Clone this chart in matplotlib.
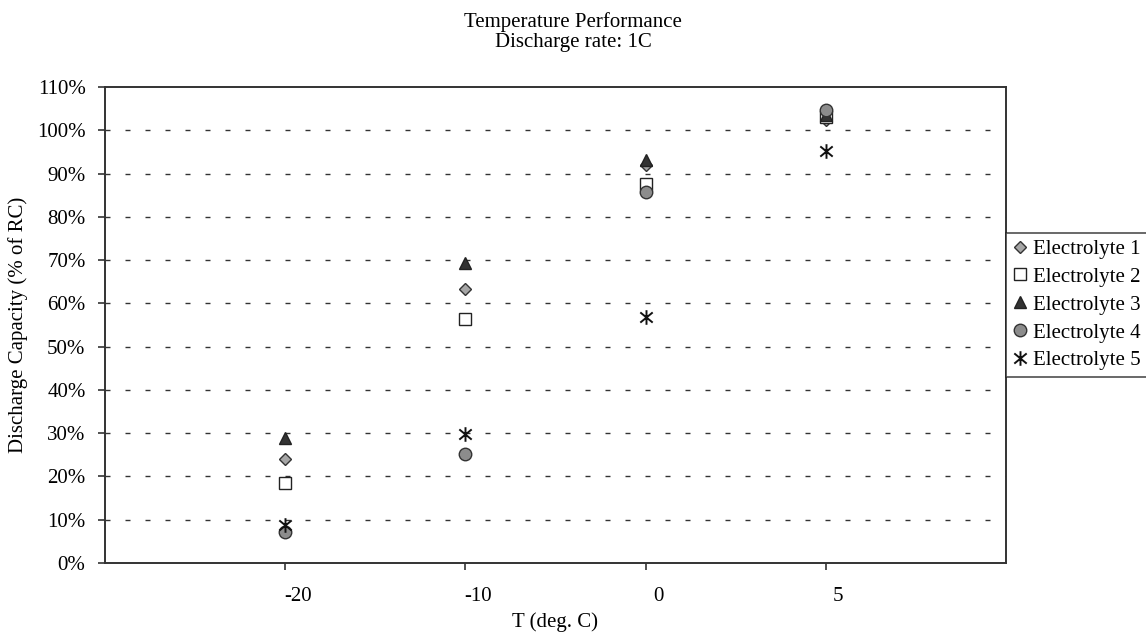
import matplotlib
matplotlib.use('Agg')
import matplotlib.pyplot as plt
from matplotlib.path import Path
import numpy as np

# category axis (Excel style), values in % of rated capacity
temps = ['-20', '-10', '0', '5']
e1 = [24.0, 63.3, 92.0, 102.4]
e2 = [18.4, 56.4, 87.5, 103.0]
e3 = [29.0, 69.3, 93.2, 103.5]
e4 = [7.1, 25.3, 85.7, 104.6]
e5 = [8.8, 29.7, 56.8, 95.3]
names = ['Electrolyte 1', 'Electrolyte 2', 'Electrolyte 3', 'Electrolyte 4', 'Electrolyte 5']
yticks = list(range(0, 111, 10))

# X with a vertical bar, like the Excel star marker
star = Path([(0, -1), (0, 1), (-0.85, -0.7), (0.85, 0.7), (-0.85, 0.7), (0.85, -0.7)],
            [Path.MOVETO, Path.LINETO, Path.MOVETO, Path.LINETO, Path.MOVETO, Path.LINETO])


def run():
    plt.rcParams['font.family'] = ['Liberation Serif', 'DejaVu Serif']
    plt.rcParams['font.size'] = 15

    fig = plt.figure(figsize=(11.46, 6.32), dpi=100)
    ax = fig.add_axes([105 / 1146, 1 - 563 / 632, 901 / 1146, 476 / 632])

    x = np.arange(len(temps))
    styles = [
        dict(marker='D', ms=6.5, mfc='#a6a6a6', mec='#333333', mew=1.0),
        dict(marker='s', ms=8.5, mfc='white', mec='#222222', mew=1.0),
        dict(marker='^', ms=9, mfc='#333333', mec='#222222', mew=1.0),
        dict(marker='o', ms=9, mfc='#8c8c8c', mec='#333333', mew=1.0),
        dict(marker=star, ms=10.5, mfc='none', mec='#111111', mew=1.4),
    ]
    for vals, name, st in zip([e1, e2, e3, e4, e5], names, styles):
        ax.plot(x, vals, linestyle='none', label=name, **st)

    # dashed gridlines (not at 0 and 110)
    for v in yticks[1:-1]:
        ax.axhline(v, color='#333333', lw=1.0, dashes=(3.6, 10.8), zorder=0)

    ax.set_xlim(-1, len(temps))
    ax.set_ylim(0, 110)
    ax.set_yticks(yticks)
    ax.set_yticklabels(['%d%%' % v for v in yticks])
    # tick marks on the categories, labels sit a little to the right of them
    ax.set_xticks(x)
    ax.set_xticklabels([])
    ax.set_xticks(x + 0.07, minor=True)
    ax.set_xticklabels(temps, minor=True)

    ax.tick_params(axis='y', direction='out', length=5, width=1.2, color='#333333', pad=9)
    ax.tick_params(axis='x', which='major', direction='out', length=5, width=1.2, color='#333333')
    ax.tick_params(axis='x', which='minor', length=0, pad=17)
    for sp in ax.spines.values():
        sp.set_color('#333333')
        sp.set_linewidth(1.4)

    ax.set_ylabel('Discharge Capacity (% of RC)')
    ax.yaxis.set_label_coords(-0.0855, 0.5)
    ax.set_xlabel('T (deg. C)')
    ax.xaxis.set_label_coords(0.5, -0.103)

    fig.text(0.5, 1 - 12 / 632, 'Temperature Performance', ha='center', va='top')
    fig.text(0.5, 1 - 33 / 632, 'Discharge rate: 1C', ha='center', va='top')

    leg = ax.legend(loc='upper left', bbox_to_anchor=(1006 / 1146, 1 - 233 / 632),
                    bbox_transform=fig.transFigure, frameon=True, fancybox=False,
                    edgecolor='#222222', handlelength=0.7, handletextpad=0.3,
                    labelspacing=0.4, borderpad=0.3, borderaxespad=0, markerscale=1.0)
    leg.get_frame().set_linewidth(1.2)

    fig.savefig('out.png', dpi=100)


if __name__ == '__main__':
    run()
